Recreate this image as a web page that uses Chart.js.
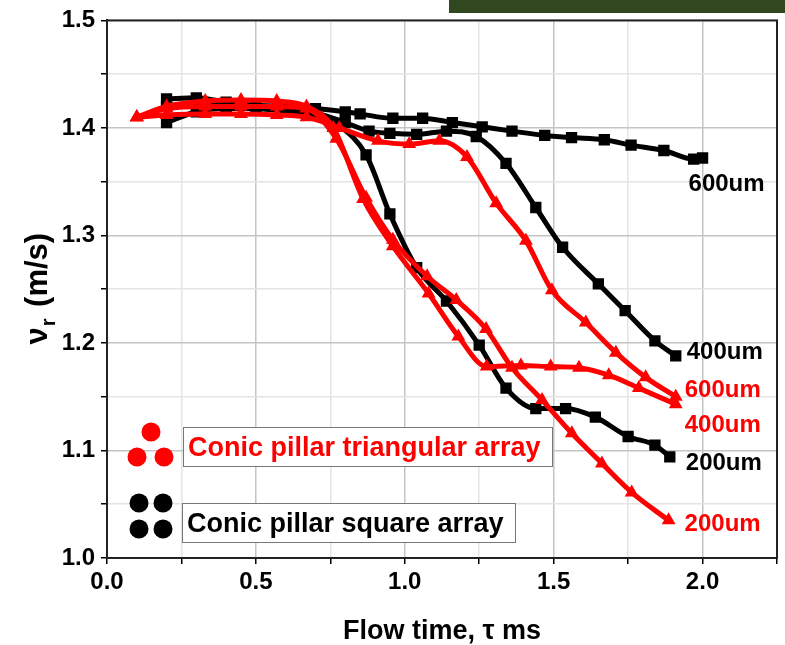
<!DOCTYPE html>
<html>
<head>
<meta charset="utf-8">
<script src="https://cdn.jsdelivr.net/npm/chart.js@4.4.0/dist/chart.umd.min.js"></script>
<style>
  body { margin: 0; background: #fff; }
  canvas { display: block; }
</style>
</head>
<body>
<canvas id="flowChart" width="785" height="645"></canvas>
<script>
// square array (black)
const sq600X = [0.2, 0.3, 0.4, 0.5, 0.6, 0.7, 0.8, 0.85, 0.96, 1.06, 1.16, 1.26, 1.36, 1.47, 1.56, 1.67, 1.76, 1.87, 1.97, 2.0];
const sq600Y = [1.427, 1.428, 1.424, 1.421, 1.42, 1.418, 1.415, 1.413, 1.409, 1.409, 1.405, 1.401, 1.397, 1.393, 1.391, 1.389, 1.384, 1.379, 1.371, 1.372];
const sq400X = [0.2, 0.3, 0.4, 0.5, 0.6, 0.7, 0.8, 0.88, 0.95, 1.04, 1.14, 1.24, 1.34, 1.44, 1.53, 1.65, 1.74, 1.84, 1.91];
const sq400Y = [1.405, 1.415, 1.418, 1.418, 1.417, 1.414, 1.405, 1.397, 1.395, 1.394, 1.397, 1.392, 1.367, 1.326, 1.289, 1.255, 1.230, 1.202, 1.188];
const sq200X = [0.2, 0.3, 0.4, 0.5, 0.6, 0.7, 0.78, 0.87, 0.95, 1.04, 1.14, 1.25, 1.34, 1.44, 1.54, 1.64, 1.75, 1.84, 1.89];
const sq200Y = [1.42, 1.422, 1.42, 1.418, 1.416, 1.412, 1.402, 1.375, 1.320, 1.270, 1.239, 1.198, 1.158, 1.139, 1.139, 1.131, 1.113, 1.105, 1.094];

// triangular array (red)
const tri600X = [0.1, 0.2, 0.33, 0.45, 0.57, 0.67, 0.76, 0.86, 0.96, 1.08, 1.18, 1.275, 1.39, 1.49, 1.585, 1.685, 1.786, 1.91];
const tri600Y = [1.41, 1.42, 1.425, 1.426, 1.425, 1.42, 1.40, 1.334, 1.29, 1.246, 1.206, 1.178, 1.179, 1.178, 1.177, 1.170, 1.158, 1.143];
const tri400X = [0.1, 0.2, 0.33, 0.45, 0.57, 0.67, 0.78, 0.91, 1.015, 1.116, 1.209, 1.307, 1.407, 1.494, 1.608, 1.709, 1.809, 1.91];
const tri400Y = [1.41, 1.412, 1.413, 1.413, 1.412, 1.41, 1.40, 1.388, 1.385, 1.388, 1.373, 1.330, 1.295, 1.249, 1.219, 1.191, 1.168, 1.15];
const tri200X = [0.1, 0.2, 0.33, 0.45, 0.57, 0.67, 0.77, 0.87, 0.96, 1.075, 1.173, 1.273, 1.36, 1.461, 1.561, 1.662, 1.762, 1.886];
const tri200Y = [1.41, 1.418, 1.42, 1.42, 1.42, 1.418, 1.39, 1.335, 1.296, 1.262, 1.24, 1.213, 1.177, 1.147, 1.116, 1.088, 1.061, 1.035];

const seriesNames = ["600um", "400um", "200um"];

function pts(xs, ys) {
    return xs.map((x, i) => ({ x: x, y: ys[i] }));
}

const RED = "#ff0000";
const BLACK = "#000000";

function ds(name, xs, ys, color, shape, dx, dy) {
    return {
        label: name,
        data: pts(xs, ys),
        borderColor: color,
        backgroundColor: color,
        borderWidth: 5,
        pointStyle: shape,
        pointRadius: 8,
        pointBorderWidth: 0,
        showLine: true,
        cubicInterpolationMode: "monotone",
        endLabel: { dx: dx, dy: dy }
    };
}

const datasets = [
    ds(seriesNames[0], tri600X, tri600Y, RED, "triangle", 9, -14),
    ds(seriesNames[1], tri400X, tri400Y, RED, "triangle", 9, 29),
    ds(seriesNames[2], tri200X, tri200Y, RED, "triangle", 16, 4),
    ds(seriesNames[0], sq600X, sq600Y, BLACK, "rect", -14, 26),
    ds(seriesNames[1], sq400X, sq400Y, BLACK, "rect", 11, -3),
    ds(seriesNames[2], sq200X, sq200Y, BLACK, "rect", 16, 6)
];

const FONT = "'Liberation Sans', Arial, sans-serif";

const decor = {
    id: "decor",
    beforeDraw(chart) {
        const c = chart.ctx;
        c.save();
        c.fillStyle = "#fff";
        c.fillRect(0, 0, chart.width, chart.height);
        c.restore();
    },
    afterDraw(chart) {
        const c = chart.ctx;
        const a = chart.chartArea;
        c.save();
        // frame
        c.strokeStyle = "#222";
        c.lineWidth = 2;
        c.strokeRect(a.left, a.top, a.right - a.left, a.bottom - a.top);

        // green bar top right
        c.fillStyle = "#31471f";
        c.fillRect(449, 0, chart.width - 449, 13);

        // end labels
        c.font = "bold 24px " + FONT;
        c.textBaseline = "middle";
        c.textAlign = "left";
        chart.data.datasets.forEach((d, i) => {
            const meta = chart.getDatasetMeta(i);
            const last = meta.data[meta.data.length - 1];
            c.fillStyle = d.borderColor;
            c.fillText(d.label, last.x + d.endLabel.dx, last.y + d.endLabel.dy);
        });

        // legend: red dots
        c.fillStyle = RED;
        [[151, 432], [137, 457], [164, 457]].forEach(p => {
            c.beginPath(); c.arc(p[0], p[1], 9.5, 0, Math.PI * 2); c.fill();
        });
        c.fillStyle = BLACK;
        [[139, 503], [163, 503], [139, 529], [163, 529]].forEach(p => {
            c.beginPath(); c.arc(p[0], p[1], 9.5, 0, Math.PI * 2); c.fill();
        });
        c.strokeStyle = "#777";
        c.lineWidth = 1;
        c.fillStyle = "#fff";
        c.fillRect(183, 427, 369, 39);
        c.strokeRect(183.5, 427.5, 369, 39);
        c.fillRect(182, 503, 333, 39);
        c.strokeRect(182.5, 503.5, 333, 39);
        c.font = "bold 27px " + FONT;
        c.textBaseline = "alphabetic";
        c.fillStyle = RED;
        c.fillText("Conic pillar triangular array", 188, 456);
        c.fillStyle = BLACK;
        c.fillText("Conic pillar square array", 187, 532);

        // axis titles
        c.font = "bold 27px " + FONT;
        c.textAlign = "center";
        c.fillText("Flow time, \u03c4 ms", (a.left + a.right) / 2, 639);

        c.translate(47, (a.top + a.bottom) / 2);
        c.rotate(-Math.PI / 2);
        const main = "\u03bd";
        const sub = "r";
        const rest = " (m/s)";
        const fMain = "bold 31px " + FONT;
        const fSub = "bold 20px " + FONT;
        c.font = fMain;
        const w1 = c.measureText(main).width;
        const w3 = c.measureText(rest).width;
        c.font = fSub;
        const w2 = c.measureText(sub).width + 3;
        let x = -(w1 + w2 + w3) / 2;
        c.textAlign = "left";
        c.font = fMain;
        c.fillText(main, x, 0);
        x += w1 + 1;
        c.font = fSub;
        c.fillText(sub, x, 8);
        x += w2;
        c.font = fMain;
        c.fillText(rest, x, 0);
        c.restore();
    }
};

new Chart(document.getElementById("flowChart").getContext("2d"), {
    type: "scatter",
    data: { datasets: datasets },
    options: {
        responsive: false,
        animation: false,
        layout: { padding: { top: 19, right: 6, left: 0, bottom: 0 } },
        plugins: { legend: { display: false }, tooltip: { enabled: false } },
        scales: {
            x: {
                type: "linear",
                min: 0,
                max: 2.25,
                afterFit(s) { s.height = 87; },
                ticks: {
                    stepSize: 0.25,
                    autoSkip: false,
                    maxRotation: 0,
                    padding: 4,
                    color: "#000",
                    font: { family: FONT, size: 24, weight: "bold" },
                    callback: v => Math.abs(v * 2 - Math.round(v * 2)) < 1e-6 ? v.toFixed(1) : ""
                },
                grid: {
                    color: ctx => Math.abs(ctx.tick.value * 2 - Math.round(ctx.tick.value * 2)) < 1e-6 ? "#c4c4c4" : "#e4e4e4",
                    lineWidth: 1.5,
                    tickLength: 6,
                    tickColor: "#000"
                },
                border: { color: "#000", width: 2 }
            },
            y: {
                min: 1.0,
                max: 1.5,
                afterFit(s) { s.width = 107; },
                ticks: {
                    stepSize: 0.05,
                    autoSkip: false,
                    padding: 6,
                    color: "#000",
                    font: { family: FONT, size: 24, weight: "bold" },
                    callback: v => Math.abs(v * 10 - Math.round(v * 10)) < 1e-6 ? v.toFixed(1) : ""
                },
                grid: {
                    color: ctx => Math.abs(ctx.tick.value * 10 - Math.round(ctx.tick.value * 10)) < 1e-6 ? "#c4c4c4" : "#e4e4e4",
                    lineWidth: 1.5,
                    tickLength: 6,
                    tickColor: "#000"
                },
                border: { color: "#000", width: 2 }
            }
        }
    },
    plugins: [decor]
});
</script>
</body>
</html>
